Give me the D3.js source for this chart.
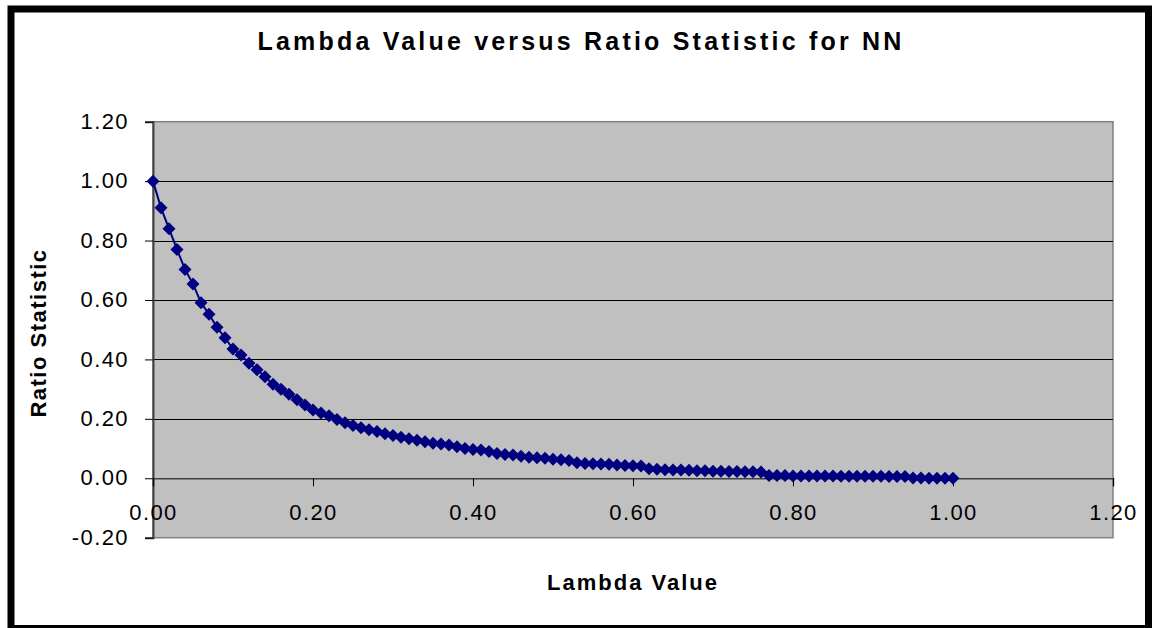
<!DOCTYPE html>
<html>
<head>
<meta charset="utf-8">
<script src="https://cdn.jsdelivr.net/npm/d3@7"></script>
<style>
  html, body { margin: 0; padding: 0; background: #fff; }
  svg { display: block; }
  text { font-family: "Liberation Sans", Arial, sans-serif; fill: #000; }
</style>
</head>
<body>
<svg id="chart" width="1156" height="628"></svg>
<script>
// ---- data ----
const lambdaValues = d3.range(0, 101).map(i => i / 100);
const ratioValues = [
  1.000, 0.910, 0.840, 0.770, 0.703, 0.654, 0.591, 0.552, 0.508, 0.473,
  0.435, 0.415, 0.387, 0.365, 0.342, 0.316, 0.300, 0.283, 0.264, 0.247,
  0.230, 0.220, 0.210, 0.198, 0.187, 0.178, 0.170, 0.163, 0.157, 0.150,
  0.144, 0.138, 0.133, 0.128, 0.123, 0.118, 0.115, 0.112, 0.106, 0.100,
  0.097, 0.095, 0.090, 0.083, 0.080, 0.078, 0.074, 0.071, 0.069, 0.067,
  0.064, 0.062, 0.060, 0.052, 0.050, 0.049, 0.048, 0.047, 0.045, 0.043,
  0.042, 0.041, 0.032, 0.030, 0.029, 0.028, 0.028, 0.027, 0.025, 0.025,
  0.024, 0.024, 0.023, 0.023, 0.022, 0.022, 0.021, 0.009, 0.009, 0.009,
  0.008, 0.008, 0.008, 0.008, 0.008, 0.008, 0.007, 0.007, 0.007, 0.007,
  0.007, 0.007, 0.006, 0.006, 0.006, 0.001, 0.001, 0.000, 0.000, 0.000,
  0.000
];
const xTicks = [0, 0.2, 0.4, 0.6, 0.8, 1.0, 1.2];
const yTicks = [-0.2, 0, 0.2, 0.4, 0.6, 0.8, 1.0, 1.2];
const titleText = "Lambda Value versus Ratio Statistic for NN";
const xTitle = "Lambda Value";
const yTitle = "Ratio Statistic";

const data = lambdaValues.map((l, i) => ({ x: l, y: ratioValues[i] }));

// ---- layout ----
const svg = d3.select("#chart");
const plot = { left: 153, right: 1113, top: 121.7, bottom: 537.7 };

const x = d3.scaleLinear().domain([0, 1.2]).range([plot.left, plot.right]);
const y = d3.scaleLinear().domain([-0.2, 1.2]).range([plot.bottom, plot.top]);
const fmt = d => d3.format(".2f")(d).replace("\u2212", "-");

// outer frame
svg.append("rect")
  .attr("x", 11).attr("y", 9)
  .attr("width", 1137.5).attr("height", 619.5)
  .attr("fill", "none").attr("stroke", "#000").attr("stroke-width", 7);

// plot background
svg.append("rect")
  .attr("x", plot.left).attr("y", plot.top)
  .attr("width", plot.right - plot.left).attr("height", plot.bottom - plot.top)
  .attr("fill", "#c0c0c0").attr("stroke", "#808080").attr("stroke-width", 1.5);

// gridlines
svg.append("g")
  .selectAll("line")
  .data(yTicks.filter(t => t > 0 && t < 1.2))
  .join("line")
  .attr("x1", plot.left).attr("x2", plot.right)
  .attr("y1", d => Math.round(y(d)) + 0.5).attr("y2", d => Math.round(y(d)) + 0.5)
  .attr("stroke", "#000").attr("stroke-width", 1);

// y axis (left, at x=0)
const yAxis = d3.axisLeft(y).tickValues(yTicks).tickSize(8).tickPadding(16)
  .tickFormat(fmt);
const gy = svg.append("g").attr("transform", `translate(${plot.left},0)`).call(yAxis);
gy.select(".domain").attr("stroke", "#404040").attr("stroke-width", 2);
gy.selectAll(".tick line").attr("stroke", "#000");
gy.selectAll(".tick text")
  .attr("font-size", 22).attr("letter-spacing", 1.4)
  .attr("font-family", "Liberation Sans, Arial, sans-serif")
  .attr("fill", "#000").attr("dy", "0.3em");

// x axis crossing at y=0
const xAxis = d3.axisBottom(x).tickValues(xTicks).tickSize(8).tickPadding(32)
  .tickFormat(fmt);
const gx = svg.append("g").attr("transform", `translate(0,${y(0)})`).call(xAxis);
gx.select(".domain").attr("stroke", "#404040").attr("stroke-width", 1.5);
gx.selectAll(".tick line").attr("stroke", "#000");
gx.selectAll(".tick text")
  .attr("font-size", 22).attr("letter-spacing", 1.4)
  .attr("font-family", "Liberation Sans, Arial, sans-serif")
  .attr("fill", "#000").attr("dy", "0.1em");

// series line
svg.append("path")
  .datum(data)
  .attr("fill", "none")
  .attr("stroke", "#000080")
  .attr("stroke-width", 2)
  .attr("d", d3.line().x(d => x(d.x)).y(d => y(d.y)));

// diamond markers
const r = 6.5;
svg.append("g")
  .selectAll("path")
  .data(data)
  .join("path")
  .attr("transform", d => `translate(${x(d.x)},${y(d.y)})`)
  .attr("d", `M0,${-r}L${r},0L0,${r}L${-r},0Z`)
  .attr("fill", "#000080");

// titles
svg.append("text")
  .attr("x", 581).attr("y", 50)
  .attr("text-anchor", "middle")
  .attr("font-size", 25).attr("font-weight", "bold").attr("letter-spacing", 3.2)
  .text(titleText);

svg.append("text")
  .attr("x", 633).attr("y", 590)
  .attr("text-anchor", "middle")
  .attr("font-size", 22).attr("font-weight", "bold").attr("letter-spacing", 2)
  .text(xTitle);

svg.append("text")
  .attr("transform", "translate(46,333) rotate(-90)")
  .attr("text-anchor", "middle")
  .attr("font-size", 22).attr("font-weight", "bold").attr("letter-spacing", 1.5)
  .text(yTitle);
</script>
</body>
</html>
